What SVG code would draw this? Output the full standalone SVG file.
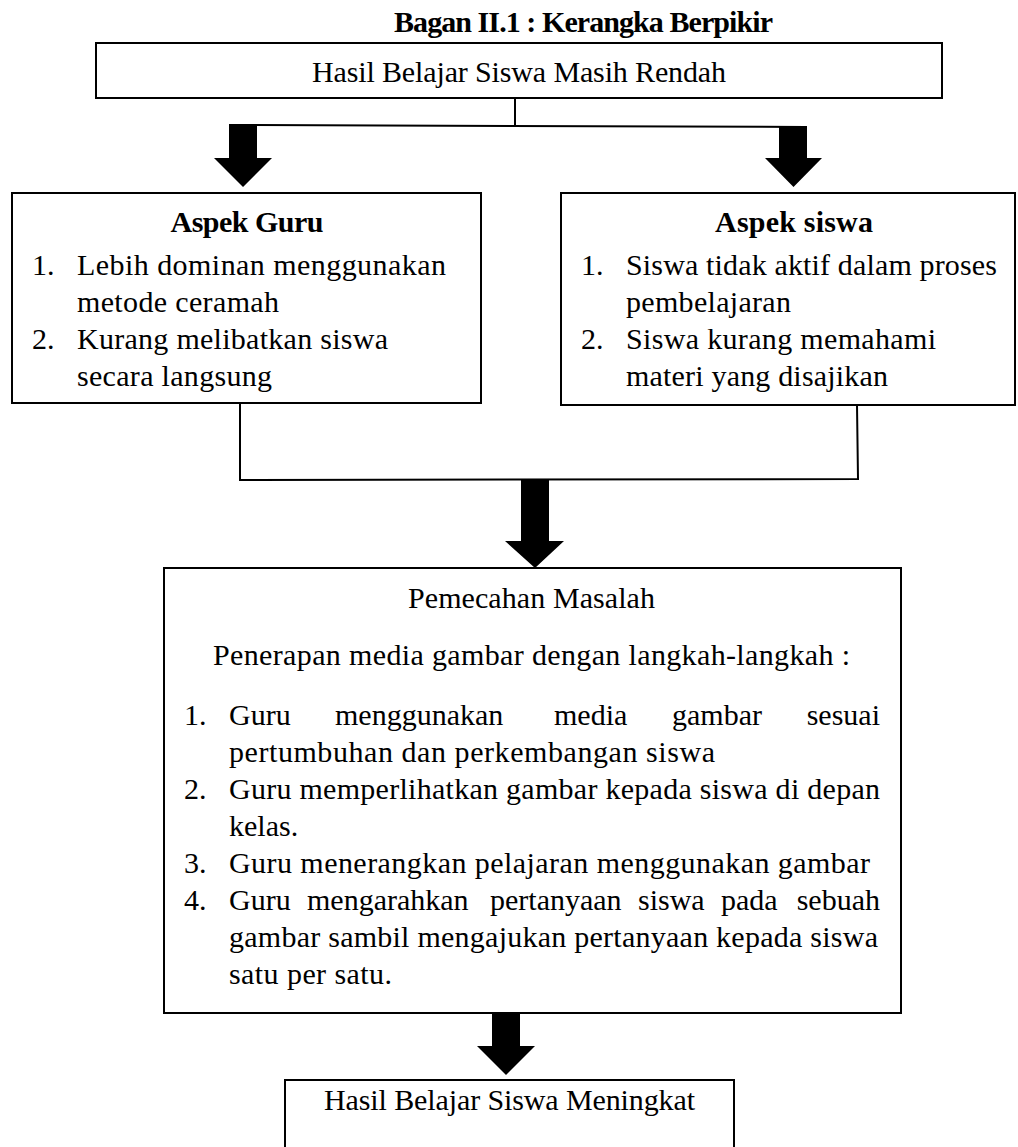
<svg xmlns="http://www.w3.org/2000/svg" width="1018" height="1147" viewBox="0 0 1018 1147">
<style>
.t{font-family:"Liberation Serif","Times New Roman",serif;font-size:30px;fill:#000}
.b{font-weight:bold}
.box{fill:#fff;stroke:#000;stroke-width:2}
.ln{stroke:#000;stroke-width:2;fill:none}
.arr{fill:#000;stroke:none}
</style>
<rect width="1018" height="1147" fill="#fff"/>
<text id="title" class="t b" x="394" y="32" font-size="28" textLength="379">Bagan II.1 : Kerangka Berpikir</text>

<g id="connectors">
  <path class="ln" d="M515,98 L515,126"/>
  <path class="ln" d="M229,125 L806,127"/>
  <polygon class="arr" points="229,124 257,124 257,158 272,158 243,187 214,158 229,158"/>
  <polygon class="arr" points="779,126 807,126 807,158 822,158 793.5,187 765,158 779,158"/>
  <path class="ln" d="M240,403 L240,480 L858,479 L857,405"/>
  <polygon class="arr" points="521,480 549,480 549,541 564,541 535,568 505,541 521,541"/>
  <polygon class="arr" points="492,1013 520,1013 520,1046 535,1046 506,1075 477,1046 492,1046"/>
</g>

<g id="node-top">
  <rect class="box" x="96" y="43" width="846" height="55"/>
  <text class="t" x="312" y="82" textLength="414">Hasil Belajar Siswa Masih Rendah</text>
</g>

<g id="node-guru">
  <rect class="box" x="12" y="193" width="469" height="210"/>
  <text class="t b" x="247" y="232" text-anchor="middle" font-size="29" textLength="153">Aspek Guru</text>
  <text class="t" x="32" y="275">1.</text>
  <text class="t" x="77" y="275" textLength="369">Lebih dominan menggunakan</text>
  <text class="t" x="77" y="312" textLength="202">metode ceramah</text>
  <text class="t" x="32" y="349">2.</text>
  <text class="t" x="77" y="349" textLength="311">Kurang melibatkan siswa</text>
  <text class="t" x="77" y="386" textLength="195">secara langsung</text>
</g>

<g id="node-siswa">
  <rect class="box" x="561" y="193" width="454" height="212"/>
  <text class="t b" x="794" y="232" text-anchor="middle" font-size="29" textLength="158">Aspek siswa</text>
  <text class="t" x="581" y="275">1.</text>
  <text class="t" x="626" y="275" textLength="371">Siswa tidak aktif dalam proses</text>
  <text class="t" x="626" y="312" textLength="165">pembelajaran</text>
  <text class="t" x="581" y="349">2.</text>
  <text class="t" x="626" y="349" textLength="310">Siswa kurang memahami</text>
  <text class="t" x="626" y="386" textLength="262">materi yang disajikan</text>
</g>

<g id="node-pemecahan">
  <rect class="box" x="164" y="568" width="737" height="445"/>
  <text class="t" x="531.5" y="608" text-anchor="middle" textLength="247">Pemecahan Masalah</text>
  <text class="t" x="213" y="665" textLength="637">Penerapan media gambar dengan langkah-langkah :</text>
  <text class="t" x="184" y="725">1.</text>
  <text class="t" y="725"><tspan x="229">Guru</tspan><tspan x="335">menggunakan</tspan><tspan x="554">media</tspan><tspan x="672">gambar</tspan></text>
  <text class="t" x="880" y="725" text-anchor="end">sesuai</text>
  <text class="t" x="229" y="762" textLength="486">pertumbuhan dan perkembangan siswa</text>
  <text class="t" x="184" y="799">2.</text>
  <text class="t" x="229" y="799" textLength="651">Guru memperlihatkan gambar kepada siswa di depan</text>
  <text class="t" x="229" y="836">kelas.</text>
  <text class="t" x="184" y="873">3.</text>
  <text class="t" x="229" y="873" textLength="641">Guru menerangkan pelajaran menggunakan gambar</text>
  <text class="t" x="184" y="910">4.</text>
  <text class="t" y="910"><tspan x="229">Guru</tspan><tspan x="307">mengarahkan</tspan><tspan x="490">pertanyaan</tspan><tspan x="638">siswa</tspan><tspan x="721">pada</tspan></text>
  <text class="t" x="880" y="910" text-anchor="end">sebuah</text>
  <text class="t" x="229" y="947" textLength="649">gambar sambil mengajukan pertanyaan kepada siswa</text>
  <text class="t" x="229" y="984" textLength="163">satu per satu.</text>
</g>

<g id="node-hasil">
  <rect class="box" x="285" y="1080" width="449" height="90"/>
  <text class="t" x="324" y="1110" textLength="371">Hasil Belajar Siswa Meningkat</text>
</g>
</svg>
